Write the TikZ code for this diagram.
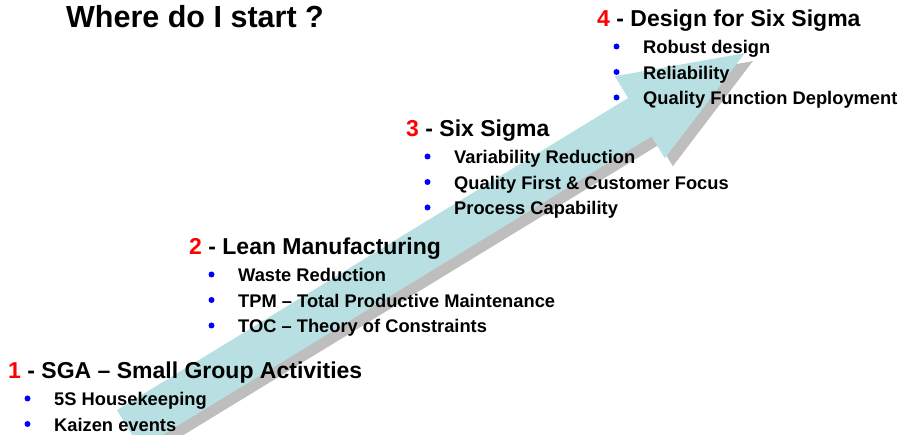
\documentclass[tikz,border=0pt]{standalone}
\usepackage{fontspec}
\setmainfont{Liberation Sans}
\usetikzlibrary{calc}
\definecolor{stairteal}{HTML}{B8E0E3}
\definecolor{stairshade}{HTML}{BEBEBE}
\definecolor{stepred}{HTML}{FF0000}
\definecolor{dotblue}{HTML}{0000FF}
\tikzset{
  sgtitle/.style={anchor=base west, inner sep=0pt, font=\fontsize{30.5}{36}\selectfont\bfseries},
  sghead/.style={anchor=base west, inner sep=0pt, font=\fontsize{23}{28}\selectfont\bfseries},
  sgitem/.style={anchor=base west, inner sep=0pt, font=\fontsize{18.3}{22}\selectfont\bfseries},
  sgdot/.style={circle, fill=dotblue, inner sep=0pt, minimum size=6pt},
  stairarrow/.pic={
    \fill (0,-22.5) -- (599,-22.5) -- (599,-48) -- (722,0)
      -- (599,48) -- (599,22.5) -- (0,22.5) -- cycle;
  },
}
\newcommand{\stepnum}[1]{\textcolor{stepred}{#1}}

\begin{document}
\begin{tikzpicture}[x=1pt, y=1pt]
  \useasboundingbox (0,0) rectangle (905,435);
  % the rising arrow and its drop shadow
  \pic[fill=stairshade, rotate=31.4] at (136.6,-2.3) {stairarrow};
  \pic[fill=stairteal, rotate=31.4] at (128.6,5.7) {stairarrow};

  \node[sgtitle] (title) at (66,407) {Where do I start ?};

  % step 1
  \node[sghead] (sga) at (8,56) {\stepnum{1} - SGA -- Small Group Activities};
  \foreach \txt [count=\i] in {5S Housekeeping, Kaizen events} {
    \node[sgitem] (sga-\i) at ($(sga.base west)+(46,-1.5-25.5*\i)$) {\txt};
    \node[sgdot] (sga-dot\i) at ($(sga-\i.base west)+(-26.5,7.5)$) {};
  }

  % step 2
  \node[sghead] (lean) at (189,180) {\stepnum{2} - Lean Manufacturing};
  \foreach \txt [count=\i] in {Waste Reduction, TPM -- Total Productive Maintenance,
      TOC -- Theory of Constraints} {
    \node[sgitem] (lean-\i) at ($(lean.base west)+(49,-1.5-25.5*\i)$) {\txt};
    \node[sgdot] (lean-dot\i) at ($(lean-\i.base west)+(-26.5,7.5)$) {};
  }

  % step 3
  \node[sghead] (sixsigma) at (406,298) {\stepnum{3} - Six Sigma};
  \foreach \txt [count=\i] in {Variability Reduction, Quality First \& Customer Focus,
      Process Capability} {
    \node[sgitem] (sixsigma-\i) at ($(sixsigma.base west)+(48,-1.5-25.5*\i)$) {\txt};
    \node[sgdot] (sixsigma-dot\i) at ($(sixsigma-\i.base west)+(-26.5,7.5)$) {};
  }

  % step 4
  \node[sghead] (dfss) at (597,408) {\stepnum{4} - Design for Six Sigma};
  \foreach \txt [count=\i] in {Robust design, Reliability, Quality Function Deployment} {
    \node[sgitem] (dfss-\i) at ($(dfss.base west)+(46,-1.5-25.5*\i)$) {\txt};
    \node[sgdot] (dfss-dot\i) at ($(dfss-\i.base west)+(-26.5,7.5)$) {};
  }
\end{tikzpicture}
\end{document}
